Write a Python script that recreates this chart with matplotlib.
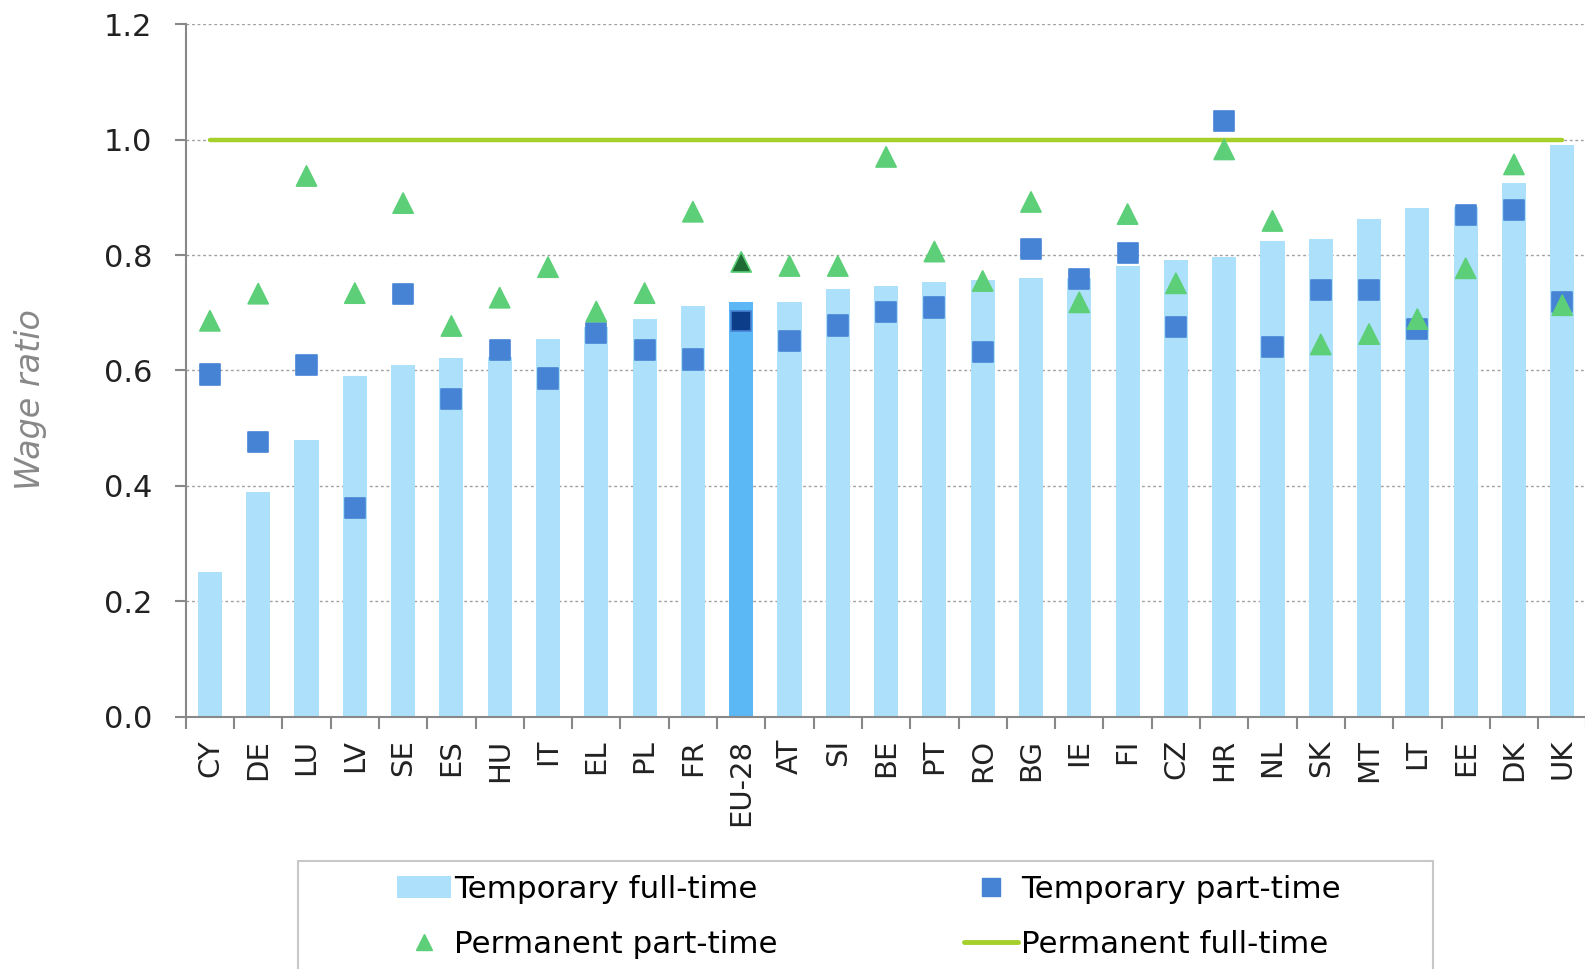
import numpy as np
import matplotlib
matplotlib.use("Agg")
import matplotlib.pyplot as plt
from matplotlib.lines import Line2D
from matplotlib.patches import Patch, Rectangle

# data
countries = ['CY', 'DE', 'LU', 'LV', 'SE', 'ES', 'HU', 'IT', 'EL', 'PL', 'FR', 'EU-28',
             'AT', 'SI', 'BE', 'PT', 'RO', 'BG', 'IE', 'FI', 'CZ', 'HR', 'NL', 'SK',
             'MT', 'LT', 'EE', 'DK', 'UK']
temp_full = [0.251, 0.390, 0.479, 0.591, 0.610, 0.622, 0.623, 0.655, 0.676, 0.689,
             0.712, 0.719, 0.719, 0.741, 0.747, 0.753, 0.757, 0.760, 0.761, 0.781,
             0.792, 0.797, 0.825, 0.827, 0.863, 0.882, 0.884, 0.925, 0.990]
temp_part = [0.593, 0.476, 0.609, 0.362, 0.732, 0.551, 0.635, 0.586, 0.665, 0.636,
             0.619, 0.685, 0.651, 0.678, 0.701, 0.709, 0.632, 0.811, 0.758, 0.803,
             0.676, 1.032, 0.641, 0.740, 0.739, 0.672, 0.870, 0.878, 0.719]
perm_part = [0.686, 0.733, 0.937, 0.734, 0.890, 0.677, 0.726, 0.779, 0.702, 0.734,
             0.875, 0.788, 0.781, 0.781, 0.970, 0.806, 0.755, 0.892, 0.718, 0.871,
             0.751, 0.983, 0.859, 0.645, 0.663, 0.689, 0.777, 0.957, 0.713]
perm_full = [1.0] * len(countries)
yticks = [0.0, 0.2, 0.4, 0.6, 0.8, 1.0, 1.2]

# colours
c_bar = '#ade1fb'
c_bar_eu = '#5cb8f4'
c_sq = '#4683d4'
c_sq_eu = '#0b3d88'
c_tri = '#5ccf78'
c_tri_eu = '#1e6c33'
c_line = '#a5cf2a'
c_axis = '#888888'

plt.rcParams['font.family'] = ['DejaVu Sans']

fig = plt.figure(figsize=(15.85, 9.69), dpi=100)
ax = fig.add_axes([0.1172, 0.2604, 0.8837, 0.7146])

x = np.arange(len(countries))
eu = countries.index('EU-28')

bar_cols = [c_bar_eu if i == eu else c_bar for i in x]
ax.bar(x, temp_full, width=0.5, color=bar_cols, zorder=2)

ax.plot(x, perm_full, color=c_line, lw=3.2, solid_capstyle='round', zorder=3)

sq_face = [c_sq_eu if i == eu else c_sq for i in x]
ax.scatter(x, temp_part, marker='s', s=14.5 ** 2, c=sq_face, edgecolors=c_sq,
           linewidths=1.2, zorder=4)
tri_face = [c_tri_eu if i == eu else c_tri for i in x]
ax.scatter(x, perm_part, marker='^', s=14.5 ** 2, c=tri_face, edgecolors=c_tri,
           linewidths=1.2, zorder=5)

ax.set_xlim(-0.5, len(countries) - 0.5)
ax.set_ylim(0, 1.2)
ax.set_yticks(yticks)
ax.set_yticklabels([f"{v:.1f}" for v in yticks])
ax.yaxis.grid(True, linestyle=(0, (2, 2)), color='#a0a0a0', lw=1.0, zorder=0)
ax.set_axisbelow(True)

ax.set_xticks(x)
ax.set_xticklabels(countries, rotation=90)
ax.set_xticks(np.arange(len(countries) + 1) - 0.5, minor=True)
ax.tick_params(axis='x', which='major', length=0, pad=16, labelsize=21, labelcolor='#222222')
ax.tick_params(axis='x', which='minor', length=8.5, width=1.5, color=c_axis)
ax.tick_params(axis='y', length=8, width=1.5, color=c_axis, pad=16,
               labelsize=22, labelcolor='#222222')

for s in ['top', 'right']:
    ax.spines[s].set_visible(False)
for s in ['left', 'bottom']:
    ax.spines[s].set_color(c_axis)
    ax.spines[s].set_linewidth(1.5)

fig.text(31 / 1585, 1 - 400 / 969, 'Wage ratio', rotation=90, ha='center', va='center',
         fontsize=24, style='italic', color='#888888')

# legend
handles = [
    Patch(facecolor=c_bar, edgecolor='none'),
    Line2D([], [], marker='^', color=c_tri, linestyle='none', markersize=11),
    Line2D([], [], marker='s', color=c_sq, linestyle='none', markersize=13),
    Line2D([], [], color=c_line, lw=3.5, solid_capstyle='round'),
]
labels = ['Temporary full-time', 'Permanent part-time',
          'Temporary part-time', 'Permanent full-time']
fig.legend(handles, labels, ncol=2, loc='upper left',
           bbox_to_anchor=(397 / 1585, 1 - 875 / 969), frameon=False,
           fontsize=22.3, handlelength=1.75, handletextpad=0.1, columnspacing=6.0,
           labelspacing=0.85, borderpad=0, borderaxespad=0)
fig.patches.append(Rectangle((298 / 1585, -0.05), (1433 - 298) / 1585, 0.05 + 1 - 861 / 969,
                             transform=fig.transFigure, fill=False,
                             edgecolor='#c8c8c8', lw=1.5))

fig.savefig('out.png', dpi=100)
